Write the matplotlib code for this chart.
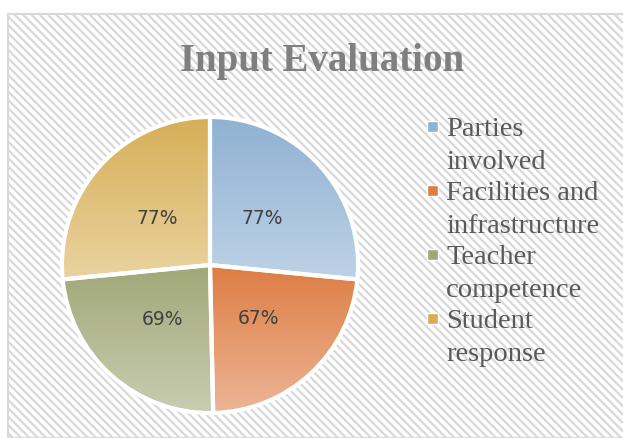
import matplotlib
matplotlib.use("Agg")
import matplotlib.pyplot as plt
import matplotlib.colors as mcolors
import numpy as np
from matplotlib.patches import Rectangle

categories = ["Parties\ninvolved", "Facilities and\ninfrastructure",
              "Teacher\ncompetence", "Student\nresponse"]
values = [77, 67, 69, 77]
top_colors = ["#8FB1D2", "#DD7D43", "#A0A777", "#D6AE57"]
bottom_colors = ["#BED2E6", "#EDB596", "#C9CDB2", "#EAD3A0"]

plt.rcParams['hatch.linewidth'] = 1.6
plt.rcParams['hatch.color'] = "#E6E6E6"

fig = plt.figure(figsize=(6.23, 4.39), dpi=100)
W, H = 623, 439

# chart area with the striped Excel background
bg = Rectangle((8 / W, 0), 1 - 8 / W + 0.01, 1 - 15 / H, transform=fig.transFigure,
               facecolor="white", edgecolor="#D9D9D9", linewidth=1.5,
               hatch="\\\\\\\\", zorder=-5)
fig.patches.append(bg)

fig.text(322 / W, 1 - 62 / H, "Input Evaluation", ha="center", va="center",
         fontsize=28, fontweight="bold", color="#7F7F7F", family="Liberation Serif")

# pie
cx, cy, r = 210, 266, 151
ax = fig.add_axes([(cx - r) / W, 1 - (cy + r) / H, 2 * r / W, 2 * r / H])
ax.set_zorder(2)
total = sum(values)
wedges, texts, autotexts = ax.pie(
    values, startangle=90, counterclock=False, radius=1,
    autopct=lambda p: f"{p * total / 100:.0f}%", pctdistance=0.48,
    wedgeprops=dict(edgecolor="white", linewidth=3, facecolor="none"),
    textprops=dict(fontsize=13.5, color="#404040", family="DejaVu Sans"))
ax.set_xlim(-1.02, 1.02)
ax.set_ylim(-1.02, 1.02)
ax.set_aspect("equal")
ax.axis("off")
fig.canvas.draw()

for w, c1, c2 in zip(wedges, top_colors, bottom_colors):
    bb = w.get_path().get_extents(w.get_transform() + ax.transData.inverted())
    grad = np.linspace(0, 1, 256)[:, None]
    cmap = mcolors.LinearSegmentedColormap.from_list("g", [c1, c2])
    im = ax.imshow(grad, cmap=cmap, aspect="auto", origin="upper",
                   extent=[bb.x0, bb.x1, bb.y0, bb.y1], zorder=0.5)
    im.set_clip_path(w)
    w.set_zorder(1)
for t in autotexts:
    t.set_zorder(3)
ax.set_xlim(-1.02, 1.02)
ax.set_ylim(-1.02, 1.02)
ax.set_aspect("equal")

# legend
for i, (lab, c1, c2) in enumerate(zip(categories, top_colors, bottom_colors)):
    y0 = 128 + i * 64
    sq = Rectangle((427 / W, 1 - (y0 + 5) / H), 11 / W, 11 / H,
                   transform=fig.transFigure, facecolor=c1, edgecolor="white",
                   linewidth=1, zorder=3)
    fig.patches.append(sq)
    fig.text(446 / W, 1 - (y0 - 11) / H, lab, ha="left", va="top",
             fontsize=20.5, color="#595959", family="Liberation Serif",
             linespacing=1.42)

fig.savefig("out.png", dpi=100)
